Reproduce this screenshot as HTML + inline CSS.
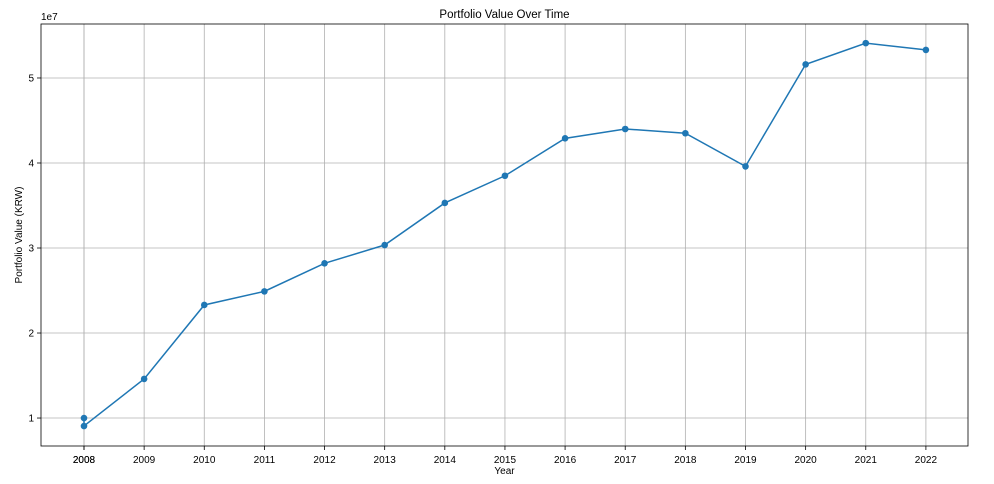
<!DOCTYPE html>
<html><head><meta charset="utf-8"><style>
body{margin:0;background:#fff;}
svg{display:block;font-family:"Liberation Sans","DejaVu Sans",sans-serif;}
</style></head><body>
<svg id="chart" width="994" height="484"></svg>
<script>
const years=[2008,2008,2009,2010,2011,2012,2013,2014,2015,2016,2017,2018,2019,2020,2021,2022];
const values=[10.0,9.06,14.6,23.3,24.9,28.2,30.35,35.3,38.5,42.9,44.0,43.5,39.6,51.6,54.1,53.3];
const xTicks=years;
const yTicks=[1,2,3,4,5];
const L=41,R=968,T=24,B=446;
const X0=2007.285,X1=2022.7,Y0=0.671,Y1=5.635;
const sx=v=>L+(v-X0)/(X1-X0)*(R-L);
const sy=v=>B-((v/10)-Y0)/(Y1-Y0)*(B-T);
const NS="http://www.w3.org/2000/svg";
const svg=document.getElementById('chart');
function mk(t,a,txt){const e=document.createElementNS(NS,t);for(const k in a)e.setAttribute(k,a[k]);if(txt!==undefined)e.textContent=txt;svg.appendChild(e);return e;}
xTicks.forEach(t=>{const x=sx(t);
 let g=mk('line',{x1:x,x2:x,y1:T,y2:B,stroke:'#b0b0b0','stroke-width':0.8});
 
 mk('line',{x1:x,x2:x,y1:B,y2:B+4,stroke:'#000','stroke-width':0.8});
 let l=mk('text',{x:x,y:B+17,'font-size':10,'text-anchor':'middle'},t);
 
});
yTicks.forEach(t=>{const y=sy(t*10);
 let g=mk('line',{x1:L,x2:R,y1:y,y2:y,stroke:'#b0b0b0','stroke-width':0.8});
 
 mk('line',{x1:L-4,x2:L,y1:y,y2:y,stroke:'#000','stroke-width':0.8});
 let l=mk('text',{x:L-7,y:y+3.5,'font-size':10,'text-anchor':'end'},t);
 
});
let ax=mk('rect',{x:L,y:T,width:R-L,height:B-T,fill:'none',stroke:'#000','stroke-width':0.8});

let pts=years.map((y,i)=>sx(y)+','+sy(values[i])).join(' ');
let pl=mk('polyline',{points:pts,fill:'none',stroke:'#1f77b4','stroke-width':1.5});

years.forEach((y,i)=>{let c=mk('circle',{cx:sx(y),cy:sy(values[i]),r:3.3,fill:'#1f77b4'});
 });
let t1=mk('text',{x:(L+R)/2,y:18,'font-size':11.5,'text-anchor':'middle'},'Portfolio Value Over Time');

let t2=mk('text',{x:(L+R)/2,y:474,'font-size':10,'text-anchor':'middle'},'Year');

let t3=mk('text',{x:22,y:(T+B)/2,'font-size':10,'text-anchor':'middle',transform:'rotate(-90 22 '+((T+B)/2)+')'},'Portfolio Value (KRW)');

let t4=mk('text',{x:L,y:20,'font-size':10},'1e7');

</script>
</body></html>
